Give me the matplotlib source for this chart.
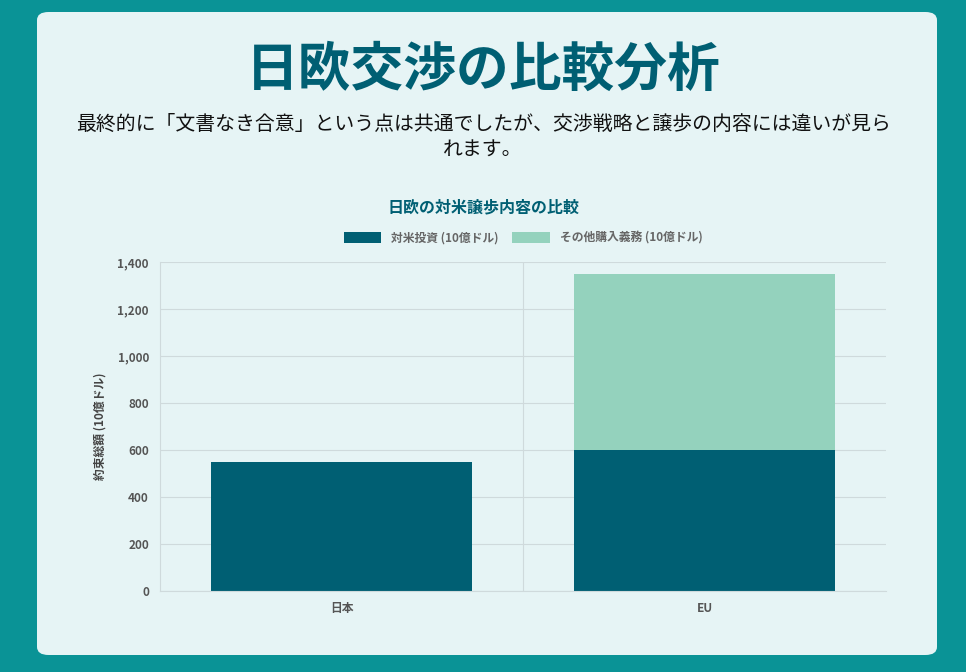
import matplotlib.pyplot as plt
from matplotlib.patches import FancyBboxPatch

plt.rcParams['font.family'] = ['Noto Sans CJK JP']

categories = ['日本', 'EU']
investment = [550, 600]
purchases = [0, 750]
yticks = [0, 200, 400, 600, 800, 1000, 1200, 1400]

dark = '#005f73'
light = '#94d2bd'

fig = plt.figure(figsize=(9.66, 6.72), dpi=100)
fig.patch.set_facecolor('#0a9396')
card = FancyBboxPatch((37/966, 17/672), 900/966, 643/672,
                      boxstyle='round,pad=0,rounding_size=0.012',
                      transform=fig.transFigure, facecolor='#e6f4f5',
                      edgecolor='none', zorder=-10)
fig.patches.append(card)

fig.text(0.5, 1 - 70/672, '日欧交渉の比較分析', ha='center', va='center',
         fontsize=38, fontweight='bold', color=dark)
fig.text(0.5, 1 - 124/672, '最終的に「文書なき合意」という点は共通でしたが、交渉戦略と譲歩の内容には違いが見ら',
         ha='center', va='center', fontsize=14.3, color='#111111')
fig.text(0.5, 1 - 150/672, 'れます。', ha='center', va='center', fontsize=14.3, color='#111111')
fig.text(0.5, 1 - 207/672, '日欧の対米譲歩内容の比較', ha='center', va='center',
         fontsize=11.5, fontweight='bold', color=dark)

ax = fig.add_axes([160/966, 1 - 591/672, 726/966, 329/672], zorder=5)
ax.set_facecolor('none')
x = range(len(categories))
ax.bar(x, investment, width=0.72, color=dark, label='対米投資 (10億ドル)', zorder=2)
ax.bar(x, purchases, width=0.72, bottom=investment, color=light,
       label='その他購入義務 (10億ドル)', zorder=2)
ax.set_xlim(-0.5, 1.5)
ax.set_ylim(0, 1400)
ax.set_yticks(yticks)
ax.set_yticklabels([f'{v:,}' for v in yticks])
ax.set_xticks(list(x))
ax.set_xticklabels(categories)
ax.set_xticks([0.5], minor=True)
ax.grid(axis='y', color='#cfdadc', lw=0.8, zorder=0)
ax.grid(axis='x', which='minor', color='#cfdadc', lw=0.8, zorder=0)
for s in ['top', 'right']:
    ax.spines[s].set_visible(False)
for s in ['left', 'bottom']:
    ax.spines[s].set_color('#cfdadc')
ax.tick_params(which='both', length=0, labelsize=8.5, labelcolor='#555555', pad=8)
for lab in ax.get_xticklabels() + ax.get_yticklabels():
    lab.set_fontweight('bold')
ax.set_ylabel('約束総額 (10億ドル)', fontsize=8.5, fontweight='bold', color='#444444', labelpad=8)
leg = ax.legend(loc='lower center', bbox_to_anchor=(0.5, 1.02), ncol=2, frameon=False,
                fontsize=8.5, handlelength=3.2, handleheight=1.0, columnspacing=1.2)
for t in leg.get_texts():
    t.set_color('#666666')
    t.set_fontweight('bold')

fig.savefig('out.png', dpi=100, facecolor=fig.get_facecolor())
